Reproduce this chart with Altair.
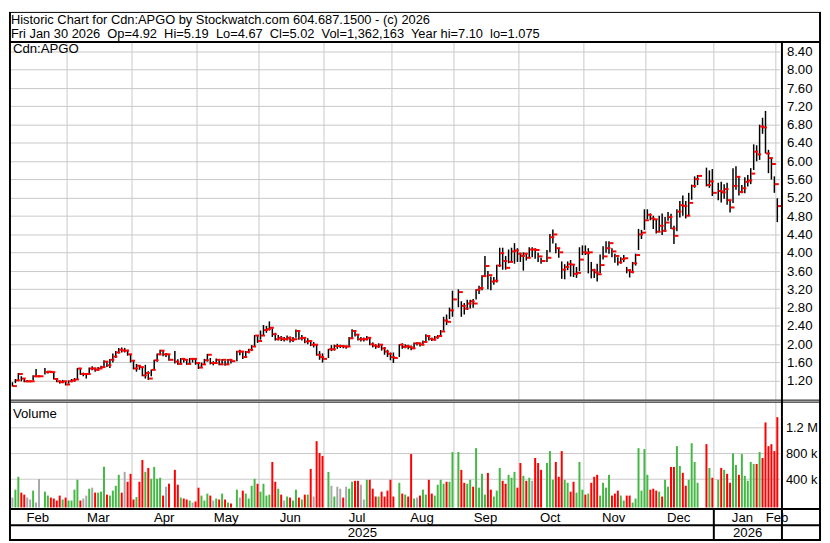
import altair as alt
import pandas as pd

FONT = "Liberation Sans"
FS = 13.33
W, H = 781, 535
GRID = "#c8c8c8"
UP, DOWN, UNCH = "#44b844", "#ff0000", "#a8a8a8"

header1 = "Historic Chart for Cdn:APGO by Stockwatch.com 604.687.1500 - (c) 2026"
header2 = ("Fri Jan 30 2026\u00a0 Op=4.92\u00a0 Hi=5.19\u00a0 Lo=4.67\u00a0 Cl=5.02\u00a0 "
           "Vol=1,362,163\u00a0 Year hi=7.10\u00a0 lo=1.075")

# ---- daily data, one slot per weekday (None = exchange holiday) ----
feb_c = [1.085, 1.21, 1.35, 1.25, 1.19, 1.19, 1.19, 1.30, 1.30, 1.30, None, 1.39, 1.40, 1.39, 1.24, 1.19, 1.17, 1.19, 1.12, 1.19]
feb_h = [1.17, 1.24, 1.37, 1.30, 1.25, 1.22, 1.21, 1.32, 1.46, 1.32, None, 1.48, 1.42, 1.41, 1.40, 1.25, 1.21, 1.22, 1.19, 1.21]
feb_l = [1.075, 1.15, 1.20, 1.19, 1.17, 1.17, 1.17, 1.21, 1.28, 1.28, None, 1.34, 1.36, 1.37, 1.23, 1.17, 1.14, 1.15, 1.10, 1.14]
feb_v = [112, 235, 435, 189, 158, 112, 82, 220, 35, 400, None, 204, 143, 112, 97, 66, 143, 82, 112, 66]

mar_c = [1.21, 1.23, 1.47, 1.35, 1.35, 1.35, 1.47, 1.47, 1.44, 1.47, 1.50, 1.62, 1.54, 1.66, 1.73, 1.82, 1.88, 1.86, 1.86, 1.78, 1.64]
mar_h = [1.24, 1.26, 1.48, 1.47, 1.38, 1.37, 1.49, 1.52, 1.49, 1.50, 1.53, 1.65, 1.63, 1.68, 1.80, 1.85, 1.92, 1.93, 1.92, 1.88, 1.78]
mar_l = [1.17, 1.18, 1.23, 1.33, 1.30, 1.25, 1.36, 1.43, 1.40, 1.42, 1.46, 1.50, 1.50, 1.48, 1.60, 1.70, 1.80, 1.82, 1.82, 1.75, 1.60]
mar_v = [66, 235, 389, 66, 97, 143, 250, 266, 189, 189, 204, 590, 158, 143, 220, 296, 466, 189, 512, 358, 481]

apr_c = [1.47, 1.53, 1.50, 1.32, 1.37, 1.25, 1.44, 1.65, 1.78, 1.86, 1.78, 1.78, 1.66, None, 1.62, 1.57, 1.68, 1.66, 1.57, 1.68, 1.68, 1.59]
apr_h = [1.64, 1.57, 1.54, 1.48, 1.55, 1.41, 1.45, 1.66, 1.80, 1.88, 1.85, 1.81, 1.78, None, 1.85, 1.67, 1.70, 1.70, 1.67, 1.70, 1.70, 1.69]
apr_l = [1.45, 1.40, 1.44, 1.30, 1.25, 1.22, 1.30, 1.45, 1.62, 1.76, 1.74, 1.72, 1.64, None, 1.58, 1.55, 1.56, 1.60, 1.55, 1.56, 1.60, 1.55]
apr_v = [82, 120, 358, 697, 512, 573, 404, 589, 404, 420, 143, 281, 328, None, 543, 312, 112, 97, 82, 66, 35, 51]

may_c = [1.49, 1.56, 1.65, 1.77, 1.59, 1.59, 1.66, 1.56, 1.66, 1.56, 1.66, 1.63, None, 1.84, 1.84, 1.72, 1.83, 1.88, 1.95, 2.19, 2.07, 2.19]
may_h = [1.60, 1.60, 1.68, 1.79, 1.70, 1.63, 1.69, 1.66, 1.68, 1.64, 1.68, 1.68, None, 1.86, 1.88, 1.84, 1.85, 1.90, 1.98, 2.20, 2.20, 2.30]
may_l = [1.46, 1.50, 1.55, 1.62, 1.56, 1.54, 1.57, 1.54, 1.55, 1.53, 1.55, 1.58, None, 1.63, 1.76, 1.68, 1.72, 1.80, 1.85, 1.94, 2.03, 2.10]
may_v = [266, 143, 66, 174, 143, 66, 97, 82, 174, 82, 35, 20, None, 235, 112, 220, 174, 97, 296, 404, 327, 204]

jun_c = [2.31, 2.33, 2.36, 2.22, 2.11, 2.14, 2.11, 2.11, 2.14, 2.09, 2.11, 2.29, 2.13, 2.14, 2.06, 2.07, 1.99, 1.99, 1.77, 1.72, 1.68]
jun_h = [2.42, 2.40, 2.50, 2.35, 2.25, 2.20, 2.18, 2.16, 2.19, 2.17, 2.16, 2.32, 2.28, 2.20, 2.15, 2.13, 2.09, 2.05, 2.00, 1.85, 1.80]
jun_l = [2.18, 2.25, 2.30, 2.16, 2.08, 2.08, 2.07, 2.06, 2.08, 2.04, 2.05, 2.14, 2.10, 2.08, 2.02, 2.00, 1.96, 1.93, 1.75, 1.66, 1.60]
jun_v = [327, 143, 158, 666, 358, 250, 158, 66, 128, 112, 66, 235, 112, 82, 158, 158, 558, 128, 990, 805, 758]

jul_c = [None, 1.89, 1.89, 1.96, 1.96, 1.96, 1.95, 1.95, 2.13, 2.29, 2.21, 2.11, 2.11, 2.11, 2.14, 2.00, 1.97, 1.95, 1.99, 1.91, 1.84, 1.79, 1.72]
jul_h = [None, 1.90, 1.98, 1.99, 2.01, 1.99, 1.98, 1.97, 2.16, 2.33, 2.30, 2.22, 2.16, 2.15, 2.18, 2.15, 2.04, 2.00, 2.02, 1.99, 1.94, 1.88, 1.82]
jul_l = [None, 1.70, 1.85, 1.86, 1.90, 1.92, 1.91, 1.90, 1.94, 2.12, 2.17, 2.08, 2.06, 2.06, 2.08, 1.98, 1.93, 1.90, 1.92, 1.86, 1.77, 1.72, 1.65]
jul_v = [None, 511, 296, 128, 281, 250, 112, 281, 250, 358, 373, 373, 312, 82, 389, 389, 250, 128, 128, 204, 128, 220, 389]

aug_c = [1.70, None, 1.99, 1.94, 1.96, 1.94, 1.91, 2.02, 2.02, 1.99, 2.05, 2.18, 2.12, 2.10, 2.15, 2.18, 2.28, 2.52, 2.49, 2.74, 2.98]
aug_h = [1.82, None, 2.00, 2.02, 2.00, 1.99, 1.97, 2.04, 2.05, 2.04, 2.08, 2.22, 2.20, 2.14, 2.18, 2.20, 2.31, 2.60, 2.65, 2.80, 3.17]
aug_l = [1.59, None, 1.72, 1.90, 1.91, 1.89, 1.87, 1.90, 1.97, 1.95, 1.98, 2.05, 2.08, 2.07, 2.08, 2.12, 2.18, 2.30, 2.42, 2.55, 2.60]
aug_v = [128, None, 342, 174, 158, 128, 789, 97, 112, 143, 235, 158, 389, 174, 143, 312, 389, 327, 358, 358, 820]

sep_c = [None, 3.14, 2.84, 2.78, 2.89, 2.94, 2.89, 3.19, 3.23, 3.49, 3.71, 3.51, 3.37, 3.39, 3.72, 3.99, 3.82, 3.67, 3.80, 4.03, 4.05, 3.98]
sep_h = [None, 3.20, 2.94, 2.90, 2.97, 2.97, 2.99, 3.20, 3.28, 3.51, 3.93, 3.60, 3.48, 3.47, 3.74, 4.11, 4.11, 3.93, 4.07, 4.11, 4.21, 4.10]
sep_l = [None, 2.81, 2.60, 2.65, 2.75, 2.78, 2.80, 2.98, 3.10, 3.18, 3.48, 3.20, 3.18, 3.30, 3.35, 3.69, 3.63, 3.63, 3.77, 3.80, 3.76, 3.80]
sep_v = [None, 820, 543, 342, 327, 389, 281, 881, 266, 481, 158, 496, 235, 128, 220, 573, 373, 327, 466, 420, 512, 266]

oct_c = [3.93, 3.98, 3.89, 4.07, 4.07, 4.06, 3.92, 3.82, None, 3.89, 4.34, 4.40, 4.10, 4.01, 3.63, 3.69, 3.75, 3.74, 3.54, 3.56, 3.85, 4.01, 3.99]
oct_h = [4.00, 4.01, 3.99, 4.12, 4.12, 4.10, 4.00, 3.89, None, 4.06, 4.41, 4.51, 4.21, 4.10, 3.81, 3.75, 3.81, 3.84, 3.73, 3.69, 4.12, 4.16, 4.16]
oct_l = [3.80, 3.61, 3.83, 3.88, 3.90, 3.87, 3.80, 3.76, None, 3.80, 4.01, 4.20, 3.99, 3.89, 3.43, 3.42, 3.62, 3.48, 3.47, 3.45, 3.60, 3.95, 3.95]
oct_v = [650, 450, 373, 420, 373, 728, 650, 543, None, 650, 835, 389, 666, 435, 835, 389, 342, 204, 358, 189, 666, 235, 158]

nov_c = [4.01, 3.62, 3.57, 3.53, 3.73, 3.92, 4.10, 4.21, 4.03, 3.93, 3.79, 3.86, 3.88, 3.62, 3.58, 3.77, 3.95, 4.40, 4.44, 4.71]
nov_h = [4.10, 3.80, 3.65, 3.76, 3.96, 4.14, 4.25, 4.25, 4.10, 3.98, 3.90, 3.90, 3.95, 3.69, 3.64, 3.80, 3.98, 4.52, 4.50, 4.95]
nov_l = [3.55, 3.44, 3.45, 3.37, 3.55, 3.85, 4.00, 3.98, 3.90, 3.78, 3.72, 3.76, 3.80, 3.55, 3.46, 3.55, 3.72, 4.06, 4.30, 4.50]
nov_v = [174, 342, 435, 466, 143, 342, 266, 466, 143, 174, 220, 143, 66, 143, 143, 35, 97, 881, 220, 866]

dec_c = [4.83, 4.75, 4.73, 4.46, 4.59, 4.48, 4.66, 4.78, 4.53, 4.37, 4.90, 5.04, 5.02, 4.81, 5.09, 5.46, 5.61, 5.68, None, None, 5.48, 5.56, 5.31]
dec_h = [4.95, 4.86, 4.81, 4.74, 4.81, 4.86, 4.78, 4.89, 4.85, 4.59, 4.95, 5.13, 5.25, 5.13, 5.31, 5.49, 5.67, 5.70, None, None, 5.86, 5.80, 5.83]
dec_l = [4.73, 4.71, 4.52, 4.42, 4.45, 4.39, 4.46, 4.70, 4.52, 4.19, 4.47, 4.77, 4.81, 4.75, 4.82, 5.16, 5.42, 5.48, None, None, 5.45, 5.42, 5.24]
dec_v = [466, 235, 250, 220, 204, 128, 389, 281, 589, 589, 912, 604, 497, 296, 389, 958, 666, 342, None, None, 943, 573, 420]

jan_c = [None, 5.35, 5.32, 5.39, 5.15, 4.99, 5.46, 5.66, 5.33, 5.41, 5.55, 5.58, 5.73, 6.21, 6.15, 6.76, 6.74, 6.17, 6.07, 5.94, 5.50, 5.02]
jan_h = [None, 5.53, 5.55, 5.50, 5.53, 5.13, 5.85, 5.89, 5.65, 5.48, 5.65, 5.70, 5.85, 6.37, 6.35, 6.80, 6.95, 7.10, 6.25, 6.05, 5.67, 5.19]
jan_l = [None, 5.15, 5.10, 5.18, 5.05, 4.88, 5.09, 5.38, 5.25, 5.30, 5.30, 5.45, 5.50, 5.81, 6.00, 6.03, 6.60, 6.17, 5.74, 5.60, 5.31, 4.67]
jan_v = [None, 389, 573, 543, 481, 342, 799, 620, 466, 789, 450, 373, 666, 635, 635, 820, 728, 1281, 912, 943, 835, 1362.163]

# axis / label positions (in weekday-slot units)
month_grid = [18.5, 40.5, 62.5, 83.5, 105.5, 128.5, 149.5, 171.5, 193.5, 214.5, 237.5, 258.5]
month_names = ["Feb", "Mar", "Apr", "May", "Jun", "Jul", "Aug", "Sep", "Oct", "Nov", "Dec", "Jan", "Feb"]
month_label_pos = [8.6, 29.1, 51.4, 72.4, 94.1, 116.7, 138.7, 160.2, 182.1, 203.6, 225.6, 247.2, 258.9]
year_names = ["2025", "2026"]
year_label_pos = [118.5, 248.95]
price_ticks = [1.20, 1.60, 2.00, 2.40, 2.80, 3.20, 3.60, 4.00, 4.40, 4.80, 5.20, 5.60, 6.00, 6.40, 6.80, 7.20, 7.60, 8.00, 8.40]
vol_ticks = [400000, 800000, 1200000]

close = feb_c + mar_c + apr_c + may_c + jun_c + jul_c + aug_c + sep_c + oct_c + nov_c + dec_c + jan_c
high = feb_h + mar_h + apr_h + may_h + jun_h + jul_h + aug_h + sep_h + oct_h + nov_h + dec_h + jan_h
low = feb_l + mar_l + apr_l + may_l + jun_l + jul_l + aug_l + sep_l + oct_l + nov_l + dec_l + jan_l
volk = feb_v + mar_v + apr_v + may_v + jun_v + jul_v + aug_v + sep_v + oct_v + nov_v + dec_v + jan_v

rows = []
prev = None
for i, c in enumerate(close):
    if c is None:
        continue
    if prev is None or c == prev:
        d = "unch"
    elif c > prev:
        d = "up"
    else:
        d = "down"
    rows.append(dict(i=i, c=c, h=high[i], l=low[i], v=volk[i] * 1000, d=d))
    prev = c
df = pd.DataFrame(rows)

SEP_Y = 30.5
P_TOP, P_BOT = 31.5, 392
V_TOP, V_BOT = 395, 501
VOL_MIN = -41500
PX_PER_UNIT = 46.25
xs = alt.Scale(domain=[-0.5, 260.4], range=[2, 781], nice=False, zero=False)
ps = alt.Scale(domain=[0.789, 0.789 + (P_BOT - P_TOP) / PX_PER_UNIT], range=[P_BOT, P_TOP], nice=False, zero=False)
vs = alt.Scale(domain=[VOL_MIN, 1589000], range=[V_BOT, V_TOP], nice=False, zero=False)

def lab(pad, size):
    return dict(labelFont=FONT, labelFontSize=size, labelColor="black", labelPadding=pad,
                ticks=False, domain=False, grid=True, gridColor=GRID, gridWidth=1,
                labelOverlap=False, title=None, orient="right")

grid_df = pd.DataFrame({"g": month_grid})
vgrid_p = alt.Chart(grid_df).mark_rule(color=GRID, strokeWidth=1).encode(
    x=alt.X("g:Q", scale=xs, axis=None), y=alt.value(P_TOP), y2=alt.value(P_BOT))
vgrid_v = alt.Chart(grid_df).mark_rule(color=GRID, strokeWidth=1).encode(
    x=alt.X("g:Q", scale=xs, axis=None), y=alt.value(V_TOP), y2=alt.value(V_BOT))

hl = alt.Chart(df).mark_rule(color="black", strokeWidth=1.5).encode(
    x=alt.X("i:Q", scale=xs, axis=None),
    y=alt.Y("l:Q", scale=ps, axis=alt.Axis(values=price_ticks, format=".2f", **lab(5, FS))),
    y2="h:Q")
ct = alt.Chart(df).mark_rule(color="#ff0000", strokeWidth=2, xOffset=0.5, x2Offset=4.5).encode(
    x=alt.X("i:Q", scale=xs, axis=None), x2="i:Q",
    y=alt.Y("c:Q", scale=ps, axis=None))
vb = alt.Chart(df).mark_rule(strokeWidth=2).encode(
    x=alt.X("i:Q", scale=xs, axis=None),
    y=alt.Y("v:Q", scale=vs, axis=alt.Axis(
        values=vol_ticks,
        labelExpr="datum.value >= 1000000 ? format(datum.value/1000000, '.1f') + ' M' : format(datum.value/1000, 'd') + ' k'",
        **lab(4, 13))),
    y2=alt.datum(VOL_MIN),
    color=alt.Color("d:N", scale=alt.Scale(domain=["up", "down", "unch"], range=[UP, DOWN, UNCH]), legend=None))

def text_at(t, x, y, size=FS):
    return alt.Chart(pd.DataFrame({"t": [t]})).mark_text(
        font=FONT, fontSize=size, color="black", align="left", baseline="alphabetic").encode(
        x=alt.value(x), y=alt.value(y), text="t:N")

mdf = pd.DataFrame({"p": month_label_pos, "t": month_names})
months = alt.Chart(mdf).mark_text(font=FONT, fontSize=FS, color="black", baseline="alphabetic").encode(
    x=alt.X("p:Q", scale=xs, axis=None), y=alt.value(515.5), text="t:N")
ydf = pd.DataFrame({"p": year_label_pos, "t": year_names})
years = alt.Chart(ydf).mark_text(font=FONT, fontSize=FS, color="black", baseline="alphabetic").encode(
    x=alt.X("p:Q", scale=xs, axis=None), y=alt.value(531), text="t:N")
yline = alt.Chart(pd.DataFrame({"g": [month_grid[10]]})).mark_rule(color="black", strokeWidth=2).encode(
    x=alt.X("g:Q", scale=xs, axis=None), y=alt.value(502), y2=alt.value(534))

one = pd.DataFrame({"a": [0]})
def hline(y, x1, x2, w=1):
    return alt.Chart(one).mark_rule(color="black", strokeWidth=w).encode(
        x=alt.value(x1), x2=alt.value(x2), y=alt.value(y))
def vline(x, y1, y2, w=1):
    return alt.Chart(one).mark_rule(color="black", strokeWidth=w).encode(
        x=alt.value(x), y=alt.value(y1), y2=alt.value(y2))

frame = [
    hline(0.5, 0, 821, 1),
    hline(SEP_Y, 0, 821, 2),
    hline(392.5, 0, 821, 1),
    hline(394.5, 0, 821, 1),
    hline(502.5, 0, 821, 2),
    hline(519, 0, 821, 2),
    hline(534, 0, 821, 2),
    vline(1, 0, 535, 2),
    vline(820, 0, 535, 2),
    vline(781.5, SEP_Y, 535, 2),
]

layers = [vgrid_p, vgrid_v, hl, ct, vb, months, years, yline,
          text_at(header1, 2, 12, 13), text_at(header2, 2, 26.5, 13),
          text_at("Cdn:APGO", 4, 42), text_at("Volume", 4, 410.3)] + frame

chart = alt.layer(*layers).resolve_scale(y="independent").properties(
    width=W, height=H, padding=0, background="white").configure_view(stroke=None)

chart.save("out.html", embed_options={"renderer": "svg", "actions": False})
